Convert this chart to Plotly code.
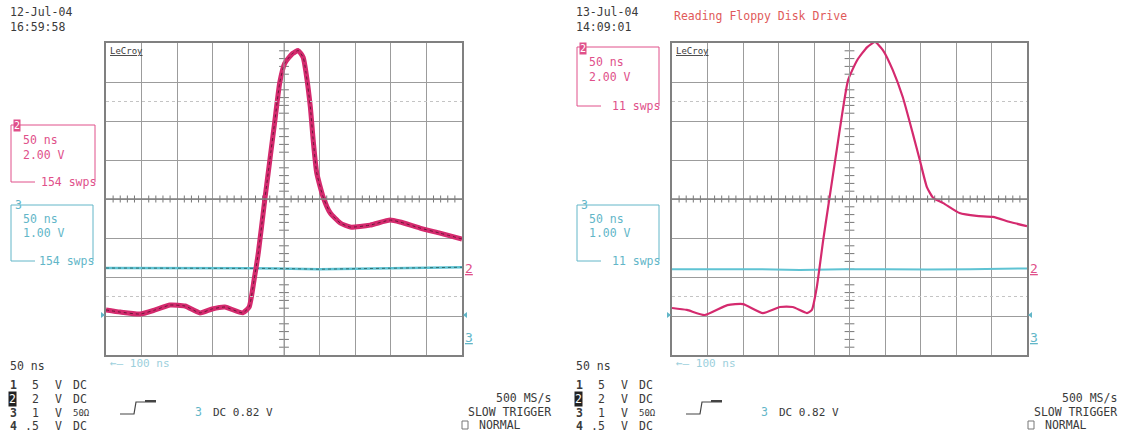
import plotly.graph_objects as go

W, H = 1133, 436

# ---------------- data (volts vs ns) ----------------
t_left_ch2 = [0, 20, 48, 69, 90, 111, 132, 149, 167, 192, 201, 208, 214, 223, 230, 237, 244, 251, 262, 270,
              277, 281, 287, 291, 296, 305, 315, 329, 343, 371, 399, 413, 441, 469, 500]
v_left_ch2 = [-2.15, -2.26, -2.36, -2.15, -1.9, -1.95, -2.3, -2.1, -2.0, -2.3, -2.0, -0.6, 0.8, 3.5, 5.5, 7.5,
              9.5, 10.5, 11.0, 11.15, 10.8, 10.0, 8.26, 6.56, 4.87, 3.64, 2.82, 2.31, 2.1, 2.2, 2.46, 2.36,
              2.05, 1.79, 1.49]
t_left_ch3 = [0, 60, 120, 180, 240, 300, 360, 420, 500]
v_left_ch3 = [2.03, 2.03, 2.02, 2.03, 2.02, 2.0, 2.02, 2.03, 2.05]

t_right_ch2 = [0, 21, 46, 78, 100, 128, 152, 170, 190, 197, 204, 213, 222, 232, 239, 248, 261, 275, 286,
               297, 311, 325, 339, 349, 359, 368, 382, 405, 429, 452, 476, 500]
v_right_ch2 = [-2.05, -2.15, -2.41, -1.9, -1.85, -2.31, -2.0, -2.0, -2.31, -2.15, -0.97, 1.44, 3.64, 6.05,
               7.74, 9.64, 10.67, 11.33, 11.59, 11.18, 10.15, 8.77, 6.92, 5.54, 4.15, 3.59, 3.33, 2.82,
               2.67, 2.62, 2.36, 2.15]
t_right_ch3 = [0, 60, 120, 180, 240, 300, 360, 420, 500]
v_right_ch3 = [2.0, 2.0, 2.0, 1.98, 2.0, 2.0, 1.99, 2.0, 2.02]

ch2_vdiv, ch3_vdiv = 2.0, 1.0
ch2_ground_div, ch3_ground_div = -1.77, -3.80

MAG = "#d42a6e"
MAG_T = "#e0508a"
CY = "#5fc3d3"
CY_T = "#62b6c8"
TXT = "#3a3a3a"
FONT = "DejaVu Sans Mono"
GRID = "#9c9c9c"


def to_div(v, vdiv, g):
    return [x / vdiv + g for x in v]


fig = go.Figure()

panels = [
    dict(x0=106, x1=462, xa="x", ya="y"),
    dict(x0=672, x1=1027, xa="x2", ya="y2"),
]
Y0, Y1 = 43, 355


def px(x):
    return x / W


def py(y):
    return 1 - y / H


for i, p in enumerate(panels):
    sfx = "" if i == 0 else str(i + 1)
    fig.update_layout(**{
        "xaxis" + sfx: dict(domain=[px(p["x0"]), px(p["x1"])], range=[0, 500], dtick=50, tick0=0,
                            showgrid=True, gridcolor=GRID, gridwidth=1, showticklabels=False,
                            zeroline=False, showline=True, linecolor="#808080", linewidth=1.5, mirror=True,
                            ticks="", fixedrange=True, anchor="y" + sfx),
        "yaxis" + sfx: dict(domain=[py(Y1), py(Y0)], range=[-4, 4], dtick=1, tick0=0,
                            showgrid=True, gridcolor=GRID, gridwidth=1, showticklabels=False,
                            zeroline=False, showline=True, linecolor="#808080", linewidth=1.5, mirror=True,
                            ticks="", fixedrange=True, anchor="x" + sfx),
    })
    xa, ya = p["xa"], p["ya"]
    fig.add_shape(type="line", xref=xa, yref=ya, x0=0, x1=500, y0=0, y1=0, line=dict(color="#808080", width=1.3))
    fig.add_shape(type="line", xref=xa, yref=ya, x0=250, x1=250, y0=-4, y1=4, line=dict(color=GRID, width=1))
    for yy in (2.5, -2.5):
        fig.add_shape(type="line", xref=xa, yref=ya, x0=0, x1=500, y0=yy, y1=yy,
                      line=dict(color="#c4c4c4", width=1, dash="dot"))
    tx = [k * 10 for k in range(1, 50) if k % 5 != 0]
    fig.add_trace(go.Scatter(x=tx, y=[0] * len(tx), mode="markers", xaxis=xa, yaxis=ya, hoverinfo="skip",
                             marker=dict(symbol="line-ns", size=5, line=dict(color="#777", width=1)),
                             showlegend=False))
    ty = [k * 0.2 - 4 for k in range(1, 40) if k % 5 != 0]
    fig.add_trace(go.Scatter(x=[250] * len(ty), y=ty, mode="markers", xaxis=xa, yaxis=ya, hoverinfo="skip",
                             marker=dict(symbol="line-ew", size=7, line=dict(color="#777", width=1)),
                             showlegend=False))

fig.add_trace(go.Scatter(x=t_left_ch3, y=to_div(v_left_ch3, ch3_vdiv, ch3_ground_div), mode="lines",
                         line=dict(color=CY, width=2.5), xaxis="x", yaxis="y", showlegend=False))
fig.add_trace(go.Scatter(x=t_left_ch3, y=to_div(v_left_ch3, ch3_vdiv, ch3_ground_div), mode="lines",
                         line=dict(color="#2f6f70", width=1, dash="dot"), xaxis="x", yaxis="y",
                         showlegend=False))
fig.add_trace(go.Scatter(x=t_left_ch2, y=to_div(v_left_ch2, ch2_vdiv, ch2_ground_div), mode="lines",
                         line=dict(color=MAG, width=5, shape="spline", smoothing=0.5), xaxis="x", yaxis="y",
                         showlegend=False))
fig.add_trace(go.Scatter(x=t_left_ch2, y=to_div(v_left_ch2, ch2_vdiv, ch2_ground_div), mode="lines",
                         line=dict(color="#6a1838", width=1, dash="dot", shape="spline", smoothing=0.5),
                         xaxis="x", yaxis="y", showlegend=False))

fig.add_trace(go.Scatter(x=t_right_ch3, y=to_div(v_right_ch3, ch3_vdiv, ch3_ground_div), mode="lines",
                         line=dict(color=CY, width=2), xaxis="x2", yaxis="y2", showlegend=False))
fig.add_trace(go.Scatter(x=t_right_ch2, y=to_div(v_right_ch2, ch2_vdiv, ch2_ground_div), mode="lines",
                         line=dict(color=MAG, width=2.2, shape="spline", smoothing=0.5), xaxis="x2",
                         yaxis="y2", showlegend=False))

ann = []


def txt(x, y, s, color=TXT, size=11.5, anchor="left", **kw):
    d = dict(x=px(x), y=py(y), xref="paper", yref="paper", text=s, showarrow=False, xanchor=anchor,
             yanchor="middle", font=dict(family=FONT, size=size, color=color))
    d.update(kw)
    ann.append(d)


def box(x0, y0, x1, y1, tx_end, color):
    path = f"M {px(tx_end)},{py(y1)} L {px(x0)},{py(y1)} L {px(x0)},{py(y0)} L {px(x1)},{py(y0)} L {px(x1)},{py(y1)}"
    fig.add_shape(type="path", path=path, xref="paper", yref="paper", line=dict(color=color, width=1))


sides = [
    dict(ox=0, date="12-Jul-04", time="16:59:58", swps="154 swps", gx0=106, gx1=462),
    dict(ox=566, date="13-Jul-04", time="14:09:01", swps="11 swps", gx0=672, gx1=1027),
]
for s in sides:
    o = s["ox"]
    txt(8 + o, 12, s["date"])
    txt(8 + o, 27, s["time"])
    txt(s["gx0"] + 2, 51, "<u>LeCroy</u>", size=9)
    if o == 0:
        b2 = (11, 125, 95, 182)
    else:
        b2 = (11 + o, 47, 93 + o, 106)
    b3 = (11 + o, 205, 93 + o, 261)
    box(b2[0], b2[1], b2[2], b2[3], b2[0] + 24, MAG_T)
    txt(b2[0] + 2, b2[1] + 1, "2", color="white", size=10, bgcolor=MAG_T, borderpad=0)
    txt(b2[0] + 10, b2[1] + 15, "50 ns", color=MAG_T)
    txt(b2[0] + 10, b2[1] + 30, "2.00 V", color=MAG_T)
    txt(b2[2] + 3, b2[3], s["swps"], color=MAG_T, anchor="right")
    box(b3[0], b3[1], b3[2], b3[3], b3[0] + 24, CY_T)
    txt(b3[0] + 2, b3[1], "3", color=CY_T)
    txt(b3[0] + 10, b3[1] + 14, "50 ns", color=CY_T)
    txt(b3[0] + 10, b3[1] + 28, "1.00 V", color=CY_T)
    txt(b3[2] + 3, b3[3], s["swps"], color=CY_T, anchor="right")

    gx0, gx1 = s["gx0"], s["gx1"]
    txt(gx1 + 1, 268, "<u>2</u>", color=MAG_T, size=13)
    txt(gx1 + 1, 337, "<u>3</u>", color=CY_T, size=13)
    fig.add_shape(type="path", xref="paper", yref="paper", fillcolor=CY_T, line=dict(width=0),
                  path=f"M {px(gx0-5)},{py(312)} L {px(gx0-1)},{py(315)} L {px(gx0-5)},{py(318)} Z")
    fig.add_shape(type="path", xref="paper", yref="paper", fillcolor=CY_T, line=dict(width=0),
                  path=f"M {px(gx1+5)},{py(312)} L {px(gx1+1)},{py(315)} L {px(gx1+5)},{py(318)} Z")

    txt(gx0 + 2, 363, "←— 100 ns", color="#9ccfdc", size=11)
    txt(8 + o, 366, "50 ns")
    rows = [("1", "5", "V", "DC"), ("2", "2", "V", "DC"), ("3", "1", "V", "50Ω"), ("4", ".5", "V", "DC")]
    for k, (a, b, c, d) in enumerate(rows):
        y = 385 + k * 13.8
        if a == "2":
            txt(8 + o, y, a, color="white", bgcolor="#222", borderpad=0)
        else:
            txt(8 + o, y, "<b>" + a + "</b>")
        txt(30 + o if b != ".5" else 23 + o, y, b)
        txt(53 + o, y, c)
        txt(71 + o, y, d, size=11.5 if d != "50Ω" else 9)
    fig.add_shape(type="path", xref="paper", yref="paper", line=dict(color="#444", width=1.2),
                  path=(f"M {px(120+o)},{py(414)} L {px(134+o)},{py(414)} L {px(136+o)},{py(402)} "
                        f"L {px(156+o)},{py(402)}"))
    fig.add_shape(type="line", xref="paper", yref="paper", x0=px(145 + o), x1=px(156 + o), y0=py(401),
                  y1=py(401), line=dict(color="#444", width=2))
    txt(193 + o, 412, "3", color=CY_T)
    txt(211 + o, 412, "DC 0.82 V", size=11)
    txt(553 + o, 398, "500 MS/s", anchor="right")
    txt(553 + o, 412, "SLOW TRIGGER", anchor="right")
    txt(477 + o, 425, "NORMAL")
    fig.add_shape(type="rect", xref="paper", yref="paper", x0=px(462 + o), x1=px(468 + o), y0=py(429),
                  y1=py(421), line=dict(color="#777", width=1))

txt(672, 16, "Reading Floppy Disk Drive", color="#e05a5a")

fig.update_layout(width=W, height=H, margin=dict(l=0, r=0, t=0, b=0), paper_bgcolor="white",
                  plot_bgcolor="white", annotations=ann, showlegend=False)

fig.write_html("out.html")
